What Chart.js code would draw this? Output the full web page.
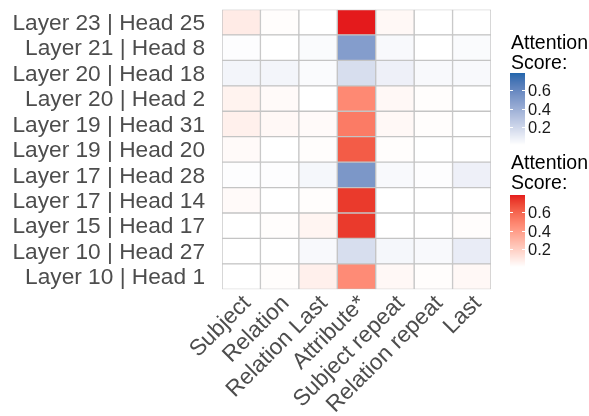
<!DOCTYPE html>
<html>
<head>
<meta charset="utf-8">
<script src="https://cdn.jsdelivr.net/npm/chart.js@4.4.1/dist/chart.umd.min.js"></script>
<style>
  html, body { margin: 0; padding: 0; background: #ffffff; }
  #wrap { width: 589px; height: 416px; }
</style>
</head>
<body>
<div id="wrap"><canvas id="c" width="589" height="416"></canvas></div>
<script>
// Attention heads (rows, top to bottom) and token positions (columns)
const heads = [
  'Layer 23 | Head 25', 'Layer 21 | Head 8', 'Layer 20 | Head 18', 'Layer 20 | Head 2',
  'Layer 19 | Head 31', 'Layer 19 | Head 20', 'Layer 17 | Head 28', 'Layer 17 | Head 14',
  'Layer 15 | Head 17', 'Layer 10 | Head 27', 'Layer 10 | Head 1'
];
const tokens = ['Subject', 'Relation', 'Relation Last', 'Attribute*', 'Subject repeat', 'Relation repeat', 'Last'];

// Which colour scale each head uses
const headPalette = ['red', 'blue', 'blue', 'red', 'red', 'red', 'blue', 'red', 'red', 'blue', 'red'];

// Attention scores, one row per head, one value per token
const scores = [
  [0.08, 0.01, 0.00, 0.79, 0.03, 0.00, 0.00],
  [0.01, 0.00, 0.02, 0.49, 0.03, 0.00, 0.02],
  [0.05, 0.05, 0.02, 0.16, 0.07, 0.03, 0.03],
  [0.05, 0.02, 0.00, 0.47, 0.03, 0.01, 0.00],
  [0.06, 0.03, 0.02, 0.52, 0.03, 0.01, 0.00],
  [0.02, 0.00, 0.01, 0.63, 0.01, 0.00, 0.00],
  [0.01, 0.01, 0.04, 0.52, 0.03, 0.01, 0.07],
  [0.02, 0.00, 0.01, 0.73, 0.00, 0.00, 0.00],
  [0.00, 0.01, 0.04, 0.73, 0.00, 0.00, 0.01],
  [0.00, 0.00, 0.03, 0.16, 0.04, 0.03, 0.09],
  [0.00, 0.01, 0.06, 0.46, 0.03, 0.01, 0.03]
];

const legendTicks = [0.2, 0.4, 0.6];
const legendTitle = ['Attention', 'Score:'];
const scoreMax = 0.79;
const paletteHigh = { blue: '#2166AC', red: '#E41A1C' };

// ---- colour helpers: white -> high colour, interpolated in CIELAB ----
const WHITE = [0.95047, 1.0, 1.08883];
function lin(c) { c /= 255; return c <= 0.04045 ? c / 12.92 : Math.pow((c + 0.055) / 1.055, 2.4); }
function gam(c) { c = c <= 0.0031308 ? 12.92 * c : 1.055 * Math.pow(c, 1 / 2.4) - 0.055; return Math.round(Math.min(1, Math.max(0, c)) * 255); }
function f(t) { return t > 216 / 24389 ? Math.cbrt(t) : (24389 / 27 * t + 16) / 116; }
function finv(t) { const t3 = t * t * t; return t3 > 216 / 24389 ? t3 : (116 * t - 16) / (24389 / 27); }
function hexToLab(hex) {
  const r = lin(parseInt(hex.slice(1, 3), 16)), g = lin(parseInt(hex.slice(3, 5), 16)), b = lin(parseInt(hex.slice(5, 7), 16));
  const X = 0.4124 * r + 0.3576 * g + 0.1805 * b;
  const Y = 0.2126 * r + 0.7152 * g + 0.0722 * b;
  const Z = 0.0193 * r + 0.1192 * g + 0.9505 * b;
  const fx = f(X / WHITE[0]), fy = f(Y / WHITE[1]), fz = f(Z / WHITE[2]);
  return [116 * fy - 16, 500 * (fx - fy), 200 * (fy - fz)];
}
function labToRgb(L, a, b) {
  const fy = (L + 16) / 116, fx = fy + a / 500, fz = fy - b / 200;
  const X = finv(fx) * WHITE[0], Y = finv(fy) * WHITE[1], Z = finv(fz) * WHITE[2];
  const r = 3.2406 * X - 1.5372 * Y - 0.4986 * Z;
  const g = -0.9689 * X + 1.8758 * Y + 0.0415 * Z;
  const bb = 0.0557 * X - 0.2040 * Y + 1.0570 * Z;
  return 'rgb(' + gam(r) + ',' + gam(g) + ',' + gam(bb) + ')';
}
const labWhite = hexToLab('#FFFFFF');
const labHigh = { blue: hexToLab(paletteHigh.blue), red: hexToLab(paletteHigh.red) };
function scoreColor(palette, v) {
  const t = Math.min(1, Math.max(0, v / scoreMax));
  const h = labHigh[palette];
  return labToRgb(
    labWhite[0] + (h[0] - labWhite[0]) * t,
    labWhite[1] + (h[1] - labWhite[1]) * t,
    labWhite[2] + (h[2] - labWhite[2]) * t
  );
}

// ---- one dataset per token column: floating bars spanning that column ----
const datasets = tokens.map((tok, j) => ({
  label: tok,
  data: heads.map(() => [j, j + 1]),
  backgroundColor: heads.map((h, i) => scoreColor(headPalette[i], scores[i][j])),
  borderColor: '#C4C4C4',
  borderWidth: 1,
  borderSkipped: false,
  grouped: false,
  barPercentage: 1,
  categoryPercentage: 1
}));

// ---- colour-bar legends drawn beside the plot ----
const colorbarPlugin = {
  id: 'colorbars',
  afterDraw(chart) {
    const ctx = chart.ctx;
    const x0 = chart.chartArea.right + 19;
    const w = 15, h = 72;
    const blocks = [
      { palette: 'blue', titleY: 44, barTop: 73 },
      { palette: 'red', titleY: 164, barTop: 195 }
    ];
    ctx.save();
    blocks.forEach(b => {
      ctx.fillStyle = '#000000';
      ctx.font = '19.5px "Liberation Sans", Arial, sans-serif';
      ctx.textAlign = 'left';
      ctx.textBaseline = 'middle';
      legendTitle.forEach((line, k) => ctx.fillText(line, x0 + 1, b.titleY + k * 20));
      const bottom = b.barTop + h;
      for (let y = 0; y < h; y++) {
        const v = scoreMax * (h - y - 0.5) / h;
        ctx.fillStyle = scoreColor(b.palette, v);
        ctx.fillRect(x0, b.barTop + y, w, 1.05);
      }
      ctx.font = '16.5px "Liberation Sans", Arial, sans-serif';
      legendTicks.forEach(t => {
        const y = Math.round(bottom - t / scoreMax * h) + 0.5;
        ctx.strokeStyle = '#FFFFFF';
        ctx.lineWidth = 1;
        ctx.beginPath();
        ctx.moveTo(x0, y); ctx.lineTo(x0 + 3, y);
        ctx.moveTo(x0 + w - 3, y); ctx.lineTo(x0 + w, y);
        ctx.stroke();
        ctx.fillStyle = '#1A1A1A';
        ctx.fillText(t.toFixed(1), x0 + w + 3, y + 1);
      });
    });
    ctx.restore();
  }
};

new Chart(document.getElementById('c'), {
  type: 'bar',
  data: { labels: heads, datasets },
  options: {
    indexAxis: 'y',
    responsive: false,
    animation: false,
    devicePixelRatio: 1,
    layout: { padding: { top: 9.5, right: 98, left: 0, bottom: 0 } },
    plugins: { legend: { display: false }, tooltip: { enabled: false } },
    scales: {
      y: {
        type: 'category',
        grid: { display: false },
        border: { display: false },
        ticks: {
          autoSkip: false,
          color: '#4D4D4D',
          padding: 9,
          labelOffset: 1.5,
          font: { family: '"Liberation Sans", Arial, sans-serif', size: 22.7 }
        },
        afterFit(scale) {
          scale.width = 222;
          scale.paddingTop = 0;
          scale.paddingBottom = 0;
        }
      },
      x: {
        type: 'linear',
        min: 0,
        max: tokens.length,
        grid: { display: false },
        border: { display: false },
        afterBuildTicks(scale) { scale.ticks = tokens.map((t, j) => ({ value: j + 0.5 })); },
        ticks: {
          autoSkip: false,
          minRotation: 45,
          maxRotation: 45,
          padding: -7,
          labelOffset: 6,
          color: '#4D4D4D',
          font: { family: '"Liberation Sans", Arial, sans-serif', size: 22.7 },
          callback: (v) => tokens[Math.floor(v)]
        },
        afterFit(scale) {
          scale.height = 126.7;
          scale.paddingLeft = 0;
          scale.paddingRight = 0;
        }
      }
    }
  },
  plugins: [colorbarPlugin]
});
</script>
</body>
</html>
